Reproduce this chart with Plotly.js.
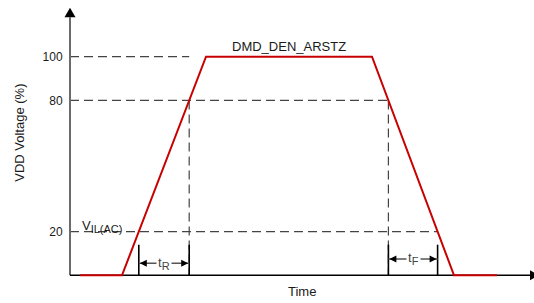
<!DOCTYPE html>
<html><head><meta charset="utf-8">
<script src="https://cdn.plot.ly/plotly-3.0.1.min.js"></script>
<style>html,body{margin:0;padding:0;background:#fff}#chart{width:534px;height:303px}</style>
</head><body><div id="chart"></div>
<script>
// ---- data ----
const timePoints = [10, 52, 136, 302, 384, 427];
const voltagePercent = [0, 0, 100, 100, 0, 0];
const levelTicks = [20, 80, 100];
const levelTickLabels = ['20', '80', '100'];
const signalName = 'DMD_DEN_ARSTZ';
const thresholdLabel = 'V<sub><span style="font-size:11px">IL(AC)</span></sub>';
const riseLabel = 't<sub><span style="font-size:11px">R</span></sub>';
const fallLabel = 't<sub><span style="font-size:11px">F</span></sub>';
const xTitle = 'Time';
const yTitle = 'VDD Voltage (%)';

function cross(level, i0, i1) {
  const t0 = timePoints[i0], t1 = timePoints[i1];
  const v0 = voltagePercent[i0], v1 = voltagePercent[i1];
  return t0 + (level - v0) * (t1 - t0) / (v1 - v0);
}
const rise20 = cross(levelTicks[0], 1, 2), rise80 = cross(levelTicks[1], 1, 2);
const fall80 = cross(levelTicks[1], 3, 4), fall20 = cross(levelTicks[0], 3, 4);

const FONT = 'Liberation Sans, Arial, Helvetica, sans-serif';
const TXT = '#1a1a1a';
const dashLine = {color: '#444', width: 1.2, dash: '9px,5px'};
const markTop = 14, riseArrowY = 5.5, fallArrowY = 7.5;
const yAxisTop = 118, xAxisEnd = 460;

const shapes = [];
function seg(x0, y0, x1, y1, line) {
  shapes.push({type: 'line', xref: 'x', yref: 'y', x0, y0, x1, y1, line, layer: 'below'});
}
function head(x, y, path, color) {
  shapes.push({type: 'path', xref: 'x', yref: 'y', xsizemode: 'pixel', ysizemode: 'pixel',
    xanchor: x, yanchor: y, path, fillcolor: color, line: {width: 0}, layer: 'above'});
}
// reference levels
seg(0, levelTicks[2], rise80, levelTicks[2], dashLine);
seg(0, levelTicks[1], fall80, levelTicks[1], dashLine);
seg(0, levelTicks[0], fall20, levelTicks[0], dashLine);
seg(rise80, levelTicks[1], rise80, 0, dashLine);
seg(fall80, levelTicks[1], fall80, 0, dashLine);
// solid measurement markers
[rise20, rise80, fall80, fall20].forEach(t => seg(t, 0, t, markTop, {color: '#000', width: 1.6}));
// dimension lines
seg(rise20, riseArrowY, rise80, riseArrowY, {color: '#555', width: 1.5});
seg(fall80, fallArrowY, fall20, fallArrowY, {color: '#555', width: 1.5});
head(rise20, riseArrowY, 'M1,0 L8,3.5 L8,-3.5 Z', '#000');
head(rise80, riseArrowY, 'M-1,0 L-8,3.5 L-8,-3.5 Z', '#000');
head(fall80, fallArrowY, 'M1,0 L8,3.5 L8,-3.5 Z', '#000');
head(fall20, fallArrowY, 'M-1,0 L-8,3.5 L-8,-3.5 Z', '#000');
// axes
seg(0, 0, 0, yAxisTop, {color: '#6b6b6b', width: 2});
seg(0, 0, xAxisEnd, 0, {color: '#000', width: 1.5});
head(0, yAxisTop, 'M-5.5,0 L5.5,0 L0,9.5 Z', '#000');
head(xAxisEnd, 0, 'M0,-5 L0,5 L9,0 Z', '#000');

const trace = {
  x: timePoints, y: voltagePercent, type: 'scatter', mode: 'lines',
  line: {color: '#c80000', width: 2}, hoverinfo: 'skip', showlegend: false
};

const ann = (o) => Object.assign({showarrow: false, font: {family: FONT, size: 13, color: TXT}}, o);
const layout = {
  width: 534, height: 303, autosize: false,
  margin: {l: 0, r: 0, t: 0, b: 0, pad: 0},
  paper_bgcolor: '#fff', plot_bgcolor: '#fff',
  showlegend: false,
  xaxis: {range: [-70, 464], domain: [0, 1], showgrid: false, zeroline: false, showline: false,
          showticklabels: false, ticks: '', fixedrange: true},
  yaxis: {range: [-12.67, 125.94], domain: [0, 1], anchor: 'free', position: 70 / 534, side: 'left',
          showgrid: false, zeroline: false, showline: false,
          tickmode: 'array', tickvals: levelTicks, ticktext: levelTickLabels,
          ticks: 'outside', ticklen: 5, tickcolor: 'rgba(0,0,0,0)',
          tickfont: {family: FONT, size: 12, color: TXT}, fixedrange: true},
  shapes,
  annotations: [
    ann({x: (timePoints[2] + timePoints[3]) / 2, y: 104.6, xref: 'x', yref: 'y', text: signalName}),
    ann({x: timePoints[0], y: 22.4, xref: 'x', yref: 'y', xanchor: 'left', text: thresholdLabel}),
    ann({x: (rise20 + rise80) / 2, y: riseArrowY, xref: 'x', yref: 'y', text: riseLabel,
         bgcolor: '#fff', borderpad: 1, font: {family: FONT, size: 13, color: '#444'}}),
    ann({x: (fall80 + fall20) / 2, y: fallArrowY, xref: 'x', yref: 'y', text: fallLabel,
         bgcolor: '#fff', borderpad: 1, font: {family: FONT, size: 13, color: '#444'}}),
    ann({x: 231.7, y: -7.6, xref: 'x', yref: 'y', text: xTitle}),
    ann({x: -50, y: 65.2, xref: 'x', yref: 'y', text: yTitle, textangle: -90})
  ]
};

Plotly.newPlot('chart', [trace], layout, {staticPlot: true, displayModeBar: false});
</script>
</body></html>
